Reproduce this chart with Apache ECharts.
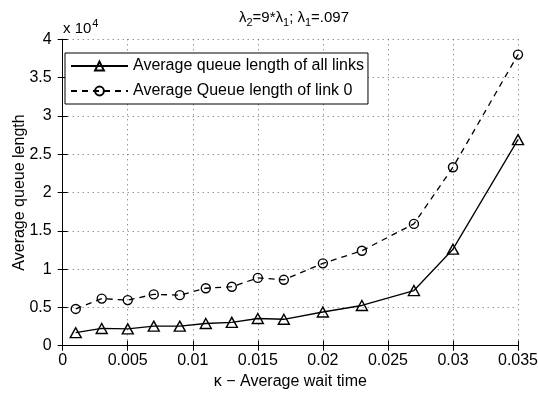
<!DOCTYPE html>
<html>
<head>
<meta charset="utf-8">
<script src="https://cdn.jsdelivr.net/npm/echarts@6/dist/echarts.min.js"></script>
<style>html,body{margin:0;padding:0;background:#fff;}#c{width:538px;height:393px;}</style>
</head>
<body>
<div id="c"></div>
<script>
var kappa = [0.001, 0.003, 0.005, 0.007, 0.009, 0.011, 0.013, 0.015, 0.017, 0.020, 0.023, 0.027, 0.030, 0.035];
var allLinks = [1700, 2250, 2200, 2550, 2550, 2900, 3050, 3550, 3450, 4400, 5250, 7200, 12600, 26900];
var link0 = [4800, 6150, 5950, 6700, 6600, 7500, 7700, 8850, 8600, 10750, 12400, 15900, 23300, 38000];
var seriesNames = ['Average queue length of all links', 'Average Queue length of link 0'];
var xTicks = {min: 0, max: 0.035, interval: 0.005};
var yTicks = {min: 0, max: 40000, interval: 5000};

function pairs(xs, ys) { return xs.map(function (x, i) { return [x, ys[i]]; }); }

var FONT = 'Liberation Sans';
var FS = 16;
var chart = echarts.init(document.getElementById('c'));
var axisCommon = {
  axisLine: {show: true, lineStyle: {color: '#000', width: 1}},
  axisTick: {show: true, inside: true, length: 5, lineStyle: {color: '#000'}},
  splitLine: {show: false}
};
var gridLine = {show: true, lineStyle: {color: '#666', type: [1, 4], width: 1}};
chart.setOption({
  animation: false,
  backgroundColor: '#fff',
  textStyle: {fontFamily: FONT},
  title: [
    {
      text: '{n|λ}{sub|2}{n|=9*λ}{sub|1}{n|; λ}{sub|1}{n|=.097}',
      left: 289, top: 3, textAlign: 'center',
      textStyle: {fontFamily: FONT, fontSize: 15, fontWeight: 'normal', color: '#000',
        rich: {
          n: {fontFamily: FONT, fontSize: 15, color: '#000'},
          sub: {fontFamily: FONT, fontSize: 11, padding: [9, 0, 0, 0], color: '#000'}
        }}
    },
    {
      text: '{n|x 10}{sup|4}',
      left: 58, top: 13,
      textStyle: {fontFamily: FONT, fontSize: 15, fontWeight: 'normal', color: '#000',
        rich: {
          n: {fontFamily: FONT, fontSize: 15, color: '#000'},
          sup: {fontFamily: FONT, fontSize: 11, padding: [0, 0, 10, 1], color: '#000'}
        }}
    }
  ],
  grid: {left: 62.7, right: 20, top: 39.3, bottom: 47.3, containLabel: false, outerBoundsMode: 'none'},
  legend: {
    left: 65, top: 53, orient: 'vertical',
    backgroundColor: '#fff', borderColor: '#000', borderWidth: 1, borderRadius: 0,
    padding: [5, 4, 5, 5], itemGap: 9, itemWidth: 57, itemHeight: 11,
    textStyle: {fontFamily: FONT, fontSize: FS, color: '#000', padding: [0, 0, 0, 0]},
    data: seriesNames
  },
  xAxis: [
    Object.assign({
      type: 'value', min: xTicks.min, max: xTicks.max, interval: xTicks.interval,
      name: 'κ − Average wait time', nameLocation: 'middle', nameGap: 28, nameMoveOverlap: false,
      nameTextStyle: {fontFamily: FONT, fontSize: FS, color: '#000'},
      axisLabel: {fontFamily: FONT, fontSize: FS, color: '#000', margin: 7,
        formatter: function (v) { return String(+v.toFixed(3)); }}
    }, axisCommon, {splitLine: gridLine}),
    Object.assign({
      type: 'value', min: xTicks.min, max: xTicks.max, interval: xTicks.interval,
      position: 'top', axisLabel: {show: false}
    }, axisCommon)
  ],
  yAxis: [
    Object.assign({
      type: 'value', min: yTicks.min, max: yTicks.max, interval: yTicks.interval,
      name: 'Average queue length', nameLocation: 'middle', nameGap: 35, nameRotate: 90, nameMoveOverlap: false,
      nameTextStyle: {fontFamily: FONT, fontSize: FS, color: '#000'},
      axisLabel: {fontFamily: FONT, fontSize: FS, color: '#000', margin: 11,
        formatter: function (v) { return String(v / 10000); }}
    }, axisCommon, {splitLine: gridLine}),
    Object.assign({
      type: 'value', min: yTicks.min, max: yTicks.max, interval: yTicks.interval,
      position: 'right', axisLabel: {show: false}
    }, axisCommon)
  ],
  series: [
    {
      name: seriesNames[0], type: 'line', data: pairs(kappa, allLinks),
      symbol: 'triangle', symbolSize: [11, 10], showAllSymbol: true,
      color: '#000',
      lineStyle: {color: '#000', width: 1.3, type: 'solid'},
      itemStyle: {color: 'rgba(0,0,0,0)', borderColor: '#000', borderWidth: 1.4}
    },
    {
      name: seriesNames[1], type: 'line', data: pairs(kappa, link0),
      symbol: 'circle', symbolSize: 9, showAllSymbol: true,
      color: '#000',
      lineStyle: {color: '#000', width: 1.3, type: [6, 5]},
      itemStyle: {color: 'rgba(0,0,0,0)', borderColor: '#000', borderWidth: 1.4}
    }
  ]
});
</script>
</body>
</html>
